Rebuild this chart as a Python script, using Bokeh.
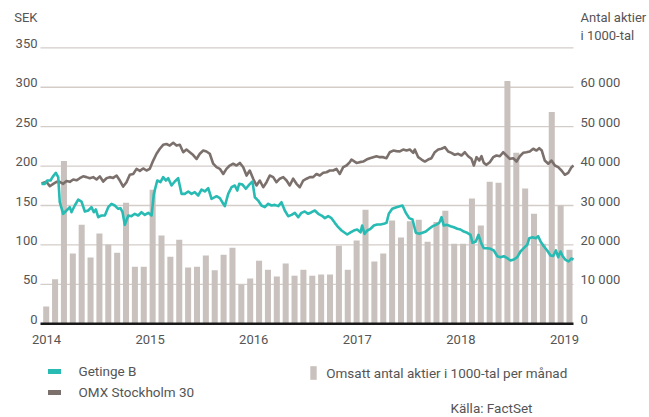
from bokeh.plotting import figure
from bokeh.models import Range1d, Legend, LegendItem, Label
from bokeh.embed import file_html
from bokeh.resources import INLINE

NAN = float("nan")

# ---------------- data ----------------
years = [2014, 2015, 2016, 2017, 2018, 2019]
year_labels = ["2014", "2015", "2016", "2017", "2018", "2019"]
sek_ticks = [0, 50, 100, 150, 200, 250, 300, 350]
sek_tick_labels = ["0", "50", "100", "150", "200", "250", "300", "350"]
share_ticks = [0, 10000, 20000, 30000, 40000, 50000, 60000]
share_tick_labels = ["0", "10 000", "20 000", "30 000", "40 000", "50 000", "60 000"]

# monthly traded volume, in 1000-tal (60 months)
months = [f"{2014 + i // 12}-{i % 12 + 1:02d}" for i in range(60)]
volume = [4400, 11300, 41300, 17800, 25100, 16800, 22900, 20100, 18000, 30700, 14500, 14500,
          34000, 22400, 17000, 21300, 14300, 14500, 17300, 13600, 17500, 19300, 9950, 11500,
          16000, 13700, 12000, 15300, 12200, 13700, 12200, 12500, 12500, 19800, 13700, 21100,
          28900, 15800, 17800, 26200, 21900, 26000, 26400, 20800, 25800, 28700, 20300, 20300,
          31800, 24900, 36000, 35800, 61600, 43400, 34300, 27900, 20300, 53700, 30000, 18800]

# OMX Stockholm 30 (rescaled, SEK axis) - decimal years
omx_t = [2013.952, 2014.000, 2014.032, 2014.065, 2014.097, 2014.128, 2014.161, 2014.193, 2014.225, 2014.258,
         2014.290, 2014.321, 2014.354, 2014.386, 2014.418, 2014.451, 2014.483, 2014.515, 2014.547, 2014.579,
         2014.611, 2014.644, 2014.676, 2014.708, 2014.740, 2014.772, 2014.804, 2014.837, 2014.869, 2014.901,
         2014.933, 2014.965, 2014.997, 2015.030, 2015.062, 2015.094, 2015.126, 2015.158, 2015.190, 2015.223,
         2015.255, 2015.287, 2015.320, 2015.351, 2015.383, 2015.416, 2015.448, 2015.480, 2015.513, 2015.544,
         2015.576, 2015.609, 2015.641, 2015.673, 2015.706, 2015.737, 2015.769, 2015.802, 2015.834, 2015.866,
         2015.899, 2015.931, 2015.962, 2015.995, 2016.027, 2016.059, 2016.092, 2016.124, 2016.155, 2016.188,
         2016.220, 2016.252, 2016.285, 2016.317, 2016.348, 2016.381, 2016.413, 2016.445, 2016.478, 2016.510,
         2016.542, 2016.574, 2016.606, 2016.638, 2016.671, 2016.703, 2016.735, 2016.767, 2016.799, 2016.831,
         2016.864, 2016.896, 2016.928, 2016.944, 2016.992, 2017.024, 2017.057, 2017.089, 2017.121, 2017.154,
         2017.185, 2017.217, 2017.250, 2017.282, 2017.314, 2017.347, 2017.378, 2017.410, 2017.443, 2017.475,
         2017.507, 2017.540, 2017.555, 2017.588, 2017.620, 2017.652, 2017.684, 2017.716, 2017.748, 2017.781,
         2017.813, 2017.845, 2017.877, 2017.909, 2017.941, 2017.974, 2018.006, 2018.038, 2018.070, 2018.102,
         2018.125, 2018.151, 2018.177, 2018.199, 2018.221, 2018.247, 2018.279, 2018.312, 2018.344, 2018.376,
         2018.408, 2018.440, 2018.472, 2018.505, 2018.537, 2018.569, 2018.601, 2018.633, 2018.665, 2018.698,
         2018.730, 2018.756, 2018.781, 2018.810, 2018.843, 2018.875, 2018.907, 2018.939, 2018.971, 2019.003,
         2019.036, 2019.068, 2019.087]
omx = [178, 180, 174.5, 177.5, 180, 180, 177.5, 181, 180, 183,
       182, 184.6, 187, 186, 184.6, 186, 183, 187, 180.4, 184.6,
       186, 185, 188, 181.7, 174, 179.6, 189, 190, 196.5, 194,
       197, 194.4, 196.5, 207, 215.6, 222, 227, 228, 226, 229.5,
       226, 227, 217.6, 221, 217.6, 214, 209, 215.6, 219.7, 218.5,
       215.6, 203, 198.6, 196.5, 190, 196.5, 200.7, 203, 200.7, 204,
       198.6, 188, 194.4, 184, 175.4, 181.7, 173.2, 179.6, 188, 186,
       179.6, 184, 186, 181.7, 175.4, 184, 177.5, 173.2, 181.7, 184,
       186, 186, 190, 188, 191.5, 192.2, 194.4, 194.4, 196.5, 190,
       198.6, 200.7, 205, 208.3, 204, 205, 205.7, 208.3, 210, 211.3,
       212.5, 211.3, 211.3, 210, 217.6, 219.7, 219, 218.5, 221, 219.7,
       221, 216.8, 221, 211.3, 208.3, 205.8, 208.3, 210, 217.6, 221,
       222, 224, 218.5, 216.8, 214.3, 215.6, 213.4, 217.6, 212.5, 209.2,
       200.7, 211.3, 207, 212.5, 204, 201.6, 205, 211.3, 213.4, 212.5,
       217.6, 213.4, 209.2, 210, 205.8, 212.5, 216.8, 217.6, 218.5, 222,
       219.7, 222.7, 219.7, 207, 203, 207, 200.7, 198.6, 194.4, 189,
       191.5, 198.6, 200.7]

# Getinge B (SEK) - decimal years
get_t = [2013.952, 2013.984, 2014.007, 2014.039, 2014.058, 2014.090, 2014.113, 2014.128, 2014.161, 2014.193,
         2014.225, 2014.241, 2014.273, 2014.306, 2014.338, 2014.370, 2014.403, 2014.434, 2014.457, 2014.476,
         2014.499, 2014.531, 2014.563, 2014.596, 2014.627, 2014.659, 2014.692, 2014.714, 2014.734, 2014.756,
         2014.789, 2014.820, 2014.852, 2014.885, 2014.917, 2014.949, 2014.982, 2015.014, 2015.036, 2015.069,
         2015.100, 2015.126, 2015.152, 2015.175, 2015.207, 2015.238, 2015.271, 2015.303, 2015.335, 2015.368,
         2015.400, 2015.431, 2015.464, 2015.496, 2015.528, 2015.561, 2015.593, 2015.625, 2015.641, 2015.673,
         2015.706, 2015.721, 2015.754, 2015.786, 2015.818, 2015.841, 2015.860, 2015.892, 2015.924, 2015.957,
         2015.988, 2016.011, 2016.043, 2016.075, 2016.107, 2016.140, 2016.172, 2016.204, 2016.237, 2016.268,
         2016.300, 2016.333, 2016.365, 2016.397, 2016.430, 2016.461, 2016.493, 2016.526, 2016.558, 2016.590,
         2016.623, 2016.655, 2016.687, 2016.719, 2016.751, 2016.783, 2016.816, 2016.848, 2016.903, 2016.935,
         2016.966, 2016.999, 2017.031, 2017.047, 2017.070, 2017.096, 2017.128, 2017.160, 2017.192, 2017.224,
         2017.256, 2017.282, 2017.304, 2017.337, 2017.378, 2017.410, 2017.436, 2017.468, 2017.501, 2017.533,
         2017.565, 2017.598, 2017.629, 2017.661, 2017.694, 2017.726, 2017.758, 2017.791, 2017.813, 2017.835,
         2017.868, 2017.900, 2017.932, 2017.965, 2017.996, 2018.028, 2018.061, 2018.093, 2018.112, 2018.144,
         2018.170, 2018.199, 2018.221, 2018.254, 2018.286, 2018.318, 2018.351, 2018.382, 2018.414, 2018.447,
         2018.479, 2018.511, 2018.544, 2018.575, 2018.607, 2018.640, 2018.660, 2018.691, 2018.723, 2018.746,
         2018.769, 2018.800, 2018.833, 2018.865, 2018.891, 2018.917, 2018.939, 2018.962, 2018.981, 2019.007,
         2019.039, 2019.065, 2019.087]
getinge = [177.5, 177.5, 181.7, 181.7, 186, 191.5, 186, 154.2, 139.5, 143.7,
           147.9, 141.5, 150, 157.6, 155, 142.4, 143.7, 147.9, 141.5, 145,
           135.2, 137.3, 137.3, 147.9, 152.2, 150, 145.8, 146.6, 141.5, 125.5,
           137.3, 136.5, 139.5, 137.3, 141.5, 138.1, 140.7, 137.3, 164.8, 181.7,
           179.6, 186, 181.7, 184.6, 175.4, 180.4, 184.6, 164.8, 164.8, 167.8,
           164.8, 166.9, 162.7, 170.3, 167.8, 172, 158.5, 160.6, 161.8, 159.3,
           152.2, 149.2, 164.8, 173.2, 175.4, 169, 177.5, 176.5, 171.2, 176.5,
           180.4, 160.5, 156.3, 150, 147.9, 152.2, 150, 150.8, 149.2, 154.2,
           143.7, 136.5, 138.1, 140.7, 135.2, 140.7, 142.4, 139.5, 141.5, 143.7,
           139.5, 137.3, 134, 136.5, 134, 128, 122.5, 118.3, 113.2, 116,
           118.3, 119.6, 116, 124.6, 114, 118.3, 120.5, 124.6, 126, 126,
           126.8, 128, 139.5, 145.8, 147.9, 149.2, 150, 140.8, 134, 132.3,
           115.4, 114.1, 115.4, 117, 120.5, 123.8, 125.5, 128, 135.2, 124.6,
           125.5, 123.8, 122.5, 120.5, 119.6, 117, 115.4, 112.8, 102.7, 104.4,
           112.8, 101.4, 95.9, 95.9, 95.1, 93, 85.7, 84.5, 85.7, 83.2,
           80.3, 81.5, 84.5, 91.7, 95.9, 100.2, 108.5, 109.8, 108.5, 111.1,
           104.4, 98.4, 93, 86.6, 86, 93, 84.5, 91.7, 86, 81.5,
           79, 82.8, 81.5]

# ---------------- styling / layout ----------------
FONT = "Roboto"
TXT = "#555555"
TEAL = "#27bbb3"
GREY = "#7b706c"
BAR = "#c9c1bd"
GRID = "#d3cdca"
FS = "13px"
FS_LEG = "13.5px"

W, H = 649, 417
# chart area (data extent) and the canvas-wide ranges around it
X0, X1 = 2013.942, 2019.087
p = figure(width=W, height=H, output_backend="svg", toolbar_location=None,
           x_range=Range1d(2013.5559, 2019.8206), y_range=Range1d(-118.82, 409.98),
           x_axis_location=None, y_axis_location=None,
           min_border=0, min_border_left=0, min_border_right=0,
           min_border_top=0, min_border_bottom=0)
p.outline_line_color = None
p.xgrid.visible = False
p.ygrid.visible = False
p.extra_x_ranges = {"months": Range1d(-5.153, 68.019)}
p.extra_y_ranges = {"shares": Range1d(-23764, 81996)}

n_grid = len(sek_ticks) - 1
# gridlines (from tick values)
p.segment(x0=[X0] * n_grid, x1=[X1] * n_grid, y0=sek_ticks[1:], y1=sek_ticks[1:],
          line_color=GRID, line_width=1.3)

# bars
p.vbar(x=list(range(len(months))), top=volume, width=0.68, bottom=0,
       x_range_name="months", y_range_name="shares", fill_color=BAR, line_color=None)

# axis baseline
p.segment(x0=[X0], x1=[X1], y0=[0], y1=[0], line_color="#1a1a1a", line_width=2.5)

# lines
p.line(omx_t, omx, line_color=GREY, line_width=2.6, line_join="round")
p.line(get_t, getinge, line_color=TEAL, line_width=2.6, line_join="round")

# tick labels
tick_style = dict(text_font={"value": FONT}, text_font_size={"value": FS}, text_color=TXT)
p.text(x=[X0] * len(sek_ticks), y=sek_ticks, text=sek_tick_labels, x_offset=-3, y_offset=-4.5,
       text_align="right", text_baseline="middle", **tick_style)
p.text(x=[X1] * len(share_ticks), y=share_ticks, text=share_tick_labels, x_offset=7, y_offset=-4.5,
       text_align="left", text_baseline="middle", y_range_name="shares", **tick_style)
p.text(x=years, y=[0] * len(years), text=year_labels, y_offset=16,
       text_align="center", text_baseline="middle", **tick_style)

# legend-only renderers (a single empty point so the swatch has a style)
r_get = p.line([NAN], [NAN], line_color=TEAL, line_width=5, line_cap="round")
r_omx = p.line([NAN], [NAN], line_color=GREY, line_width=5, line_cap="round")
r_bar = p.vbar(x=[NAN], top=[NAN], width=0.68, fill_color=BAR, line_color=None,
               x_range_name="months", y_range_name="shares")

leg1 = Legend(items=[LegendItem(label="Getinge B", renderers=[r_get]),
                     LegendItem(label="OMX Stockholm 30", renderers=[r_omx])],
              location=(47.5, 17), orientation="vertical",
              glyph_width=13, glyph_height=14, label_height=14, spacing=5,
              padding=0, margin=0, label_standoff=18,
              border_line_color=None, background_fill_alpha=0,
              label_text_font=FONT, label_text_font_size=FS_LEG, label_text_color=TXT)
p.add_layout(leg1)

leg2 = Legend(items=[LegendItem(label="Omsatt antal aktier i 1000-tal per månad", renderers=[r_bar])],
              location=(309.2, 36), orientation="vertical",
              glyph_width=8, glyph_height=17, label_height=17,
              padding=0, margin=0, label_standoff=9,
              border_line_color=None, background_fill_alpha=0,
              label_text_font=FONT, label_text_font_size=FS_LEG, label_text_color=TXT)
p.add_layout(leg2)

def add_text(txt, x, y, align="left", size=FS):
    # x, y in screen px from the canvas' bottom-left
    p.add_layout(Label(x=x, y=y, x_units="screen", y_units="screen", text=txt,
                       text_align=align, text_baseline="middle",
                       text_font=FONT, text_font_size=size, text_color=TXT))

add_text("SEK", 37, H - 17, align="right")
add_text("Antal aktier", 580, H - 17)
add_text("i 1000-tal", 580, H - 35)
add_text("Källa: FactSet", 532, H - 407, align="right", size=FS_LEG)

open("out.html", "w").write(file_html(p, INLINE))
